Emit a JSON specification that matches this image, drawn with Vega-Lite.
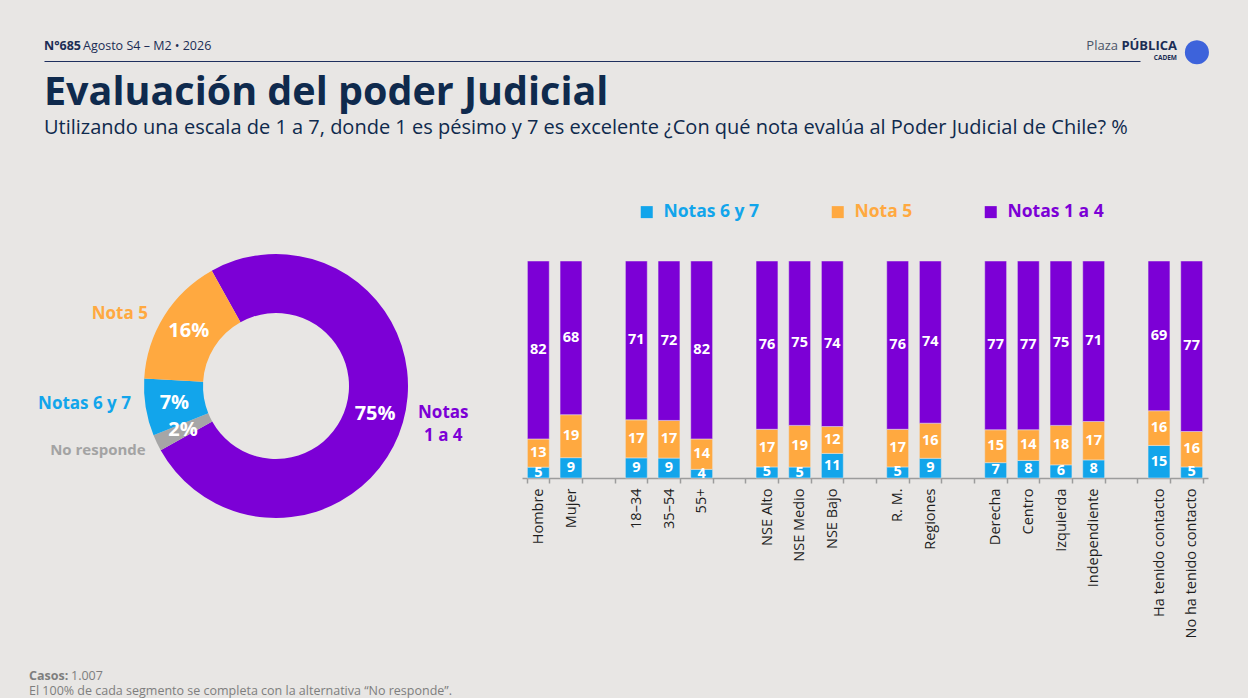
{
  "$schema": "https://vega.github.io/schema/vega-lite/v6.json",
  "background": "#E8E6E4",
  "padding": {"left": 29, "top": 23, "right": 40, "bottom": 0},
  "autosize": {"type": "pad"},
  "config": {
    "font": "Open Sans",
    "view": {"stroke": null},
    "axis": {"labelFont": "Open Sans", "titleFont": "Open Sans"},
    "legend": {"labelFont": "Open Sans"},
    "title": {"font": "Open Sans", "subtitleFont": "Open Sans"}
  },
  "bounds": "flush",
  "spacing": 200,
  "vconcat": [
    {
      "width": 1096,
      "height": 6,
      "data": {"values": [{"k": "cabecera"}]},
      "encoding": {
        "x": {
          "field": "k", "type": "nominal", "bandPosition": 0,
          "scale": {"type": "band", "paddingInner": 0, "paddingOuter": 0},
          "axis": {"orient": "bottom", "title": null, "labels": false, "ticks": false, "domainColor": "#1F2F5E", "domainWidth": 1.2}
        }
      },
      "layer": [
        {"mark": {"type": "text", "text": "N°685", "align": "left", "baseline": "middle", "fontSize": 12.5, "fontWeight": "bold", "color": "#1B2D55", "dy": -12}},
        {"mark": {"type": "text", "text": "Agosto S4 – M2 • 2026", "align": "left", "baseline": "middle", "fontSize": 12.5, "color": "#1B2D55", "dx": 39, "dy": -12}},
        {
          "mark": {"type": "text", "text": "Plaza", "align": "right", "baseline": "middle", "fontSize": 13, "color": "#4A5468", "dx": -22, "dy": -12},
          "encoding": {"x": {"field": "k", "type": "nominal", "bandPosition": 1, "scale": {"type": "band", "paddingInner": 0, "paddingOuter": 0}, "axis": {"orient": "bottom", "title": null, "labels": false, "ticks": false, "domainColor": "#1F2F5E", "domainWidth": 1.2}}}
        },
        {
          "mark": {"type": "text", "text": "PÚBLICA", "align": "right", "baseline": "middle", "fontSize": 13, "fontWeight": "bold", "color": "#1B2D55", "dx": 37, "dy": -12},
          "encoding": {"x": {"field": "k", "type": "nominal", "bandPosition": 1, "scale": {"type": "band", "paddingInner": 0, "paddingOuter": 0}, "axis": {"orient": "bottom", "title": null, "labels": false, "ticks": false, "domainColor": "#1F2F5E", "domainWidth": 1.2}}}
        },
        {
          "mark": {"type": "text", "text": "CADEM", "align": "right", "baseline": "middle", "fontSize": 6.5, "fontWeight": "bold", "color": "#1B2D55", "letterSpacing": 1, "dx": 37, "dy": 0},
          "encoding": {"x": {"field": "k", "type": "nominal", "bandPosition": 1, "scale": {"type": "band", "paddingInner": 0, "paddingOuter": 0}, "axis": {"orient": "bottom", "title": null, "labels": false, "ticks": false, "domainColor": "#1F2F5E", "domainWidth": 1.2}}}
        },
        {
          "mark": {"type": "text", "text": "●", "align": "center", "baseline": "middle", "fontSize": 56, "color": "#3D63DB", "dx": 57, "dy": -7},
          "encoding": {"x": {"field": "k", "type": "nominal", "bandPosition": 1, "scale": {"type": "band", "paddingInner": 0, "paddingOuter": 0}, "axis": {"orient": "bottom", "title": null, "labels": false, "ticks": false, "domainColor": "#1F2F5E", "domainWidth": 1.2}}}
        }
      ]
    },
    {
      "title": {
        "text": "Evaluación del poder Judicial",
        "subtitle": "Utilizando una escala de 1 a 7, donde 1 es pésimo y 7 es excelente ¿Con qué nota evalúa al Poder Judicial de Chile? %",
        "anchor": "start",
        "frame": "group",
        "fontSize": 39.5,
        "fontWeight": "bold",
        "color": "#0F2A4D",
        "subtitleFontSize": 20,
        "subtitleColor": "#0F2A4D",
        "subtitlePadding": 5,
        "offset": 64
      },
      "bounds": "flush",
      "spacing": 14,
      "resolve": {"scale": {"color": "independent"}},
      "hconcat": [
        {
          "width": 464,
          "height": 250,
          "data": {
            "values": [
              {"nota": "Notas 1 a 4", "valor": 75},
              {"nota": "No responde", "valor": 2},
              {"nota": "Notas 6 y 7", "valor": 7},
              {"nota": "Nota 5", "valor": 16}
            ]
          },
          "transform": [
            {"calculate": "indexof(['Notas 1 a 4', 'No responde', 'Notas 6 y 7', 'Nota 5'], datum.nota)", "as": "orden"},
            {"stack": "valor", "groupby": [], "sort": [{"field": "orden", "order": "ascending"}], "as": ["t0", "t1"]},
            {"calculate": "(datum.t0 + datum.t1) / 2", "as": "tmid"},
            {"calculate": "datum.valor + '%'", "as": "etiqueta"}
          ],
          "layer": [
            {
              "mark": {"type": "arc", "outerRadius": 132, "innerRadius": 73},
              "encoding": {
                "theta": {"field": "t0", "type": "quantitative", "stack": null, "scale": {"domain": [0, 100], "range": [-0.508, 5.775]}},
                "theta2": {"field": "t1"},
                "color": {
                  "field": "nota", "type": "nominal", "legend": null,
                  "scale": {"domain": ["Notas 1 a 4", "No responde", "Notas 6 y 7", "Nota 5"], "range": ["#7C00D6", "#A6A6A6", "#12A5EB", "#FFA940"]}
                }
              }
            },
            {
              "mark": {"type": "text", "radius": 103, "fontSize": 20, "fontWeight": "bold", "color": "white", "baseline": "middle"},
              "encoding": {
                "theta": {"field": "tmid", "type": "quantitative", "stack": null, "scale": {"domain": [0, 100], "range": [-0.508, 5.775]}},
                "text": {"field": "etiqueta"}
              }
            },
            {
              "transform": [{"filter": "datum.nota == 'Nota 5'"}],
              "mark": {"type": "text", "radius": 150, "align": "right", "baseline": "middle", "dx": -1, "dy": 8, "fontSize": 17, "fontWeight": "bold", "color": "#FFA940"},
              "encoding": {
                "theta": {"field": "tmid", "type": "quantitative", "stack": null, "scale": {"domain": [0, 100], "range": [-0.508, 5.775]}},
                "text": {"field": "nota"}
              }
            },
            {
              "transform": [{"filter": "datum.nota == 'Notas 6 y 7'"}],
              "mark": {"type": "text", "radius": 145, "align": "right", "baseline": "middle", "dx": -2, "dy": -5, "fontSize": 17, "fontWeight": "bold", "color": "#12A5EB"},
              "encoding": {
                "theta": {"field": "tmid", "type": "quantitative", "stack": null, "scale": {"domain": [0, 100], "range": [-0.508, 5.775]}},
                "text": {"field": "nota"}
              }
            },
            {
              "transform": [{"filter": "datum.nota == 'No responde'"}],
              "mark": {"type": "text", "radius": 140, "align": "right", "baseline": "middle", "dx": -4, "dy": 4, "fontSize": 15, "fontWeight": "bold", "color": "#A3A3A3"},
              "encoding": {
                "theta": {"field": "tmid", "type": "quantitative", "stack": null, "scale": {"domain": [0, 100], "range": [-0.508, 5.775]}},
                "text": {"field": "nota"}
              }
            },
            {
              "transform": [{"filter": "datum.nota == 'Notas 1 a 4'"}],
              "mark": {"type": "text", "text": ["Notas", "1 a 4"], "radius": 150, "align": "center", "baseline": "middle", "dx": 23, "dy": -14.5, "lineHeight": 23, "fontSize": 17, "fontWeight": "bold", "color": "#7C00D6"},
              "encoding": {
                "theta": {"field": "tmid", "type": "quantitative", "stack": null, "scale": {"domain": [0, 100], "range": [-0.508, 5.775]}}
              }
            }
          ]
        },
        {
          "width": 686,
          "height": 217,
          "data": {
            "values": [
              {"segmento": "Hombre", "Notas 6 y 7": 5, "Nota 5": 13, "Notas 1 a 4": 82},
              {"segmento": "Mujer", "Notas 6 y 7": 9, "Nota 5": 19, "Notas 1 a 4": 68},
              {"segmento": "18–34", "Notas 6 y 7": 9, "Nota 5": 17, "Notas 1 a 4": 71},
              {"segmento": "35–54", "Notas 6 y 7": 9, "Nota 5": 17, "Notas 1 a 4": 72},
              {"segmento": "55+", "Notas 6 y 7": 4, "Nota 5": 14, "Notas 1 a 4": 82},
              {"segmento": "NSE Alto", "Notas 6 y 7": 5, "Nota 5": 17, "Notas 1 a 4": 76},
              {"segmento": "NSE Medio", "Notas 6 y 7": 5, "Nota 5": 19, "Notas 1 a 4": 75},
              {"segmento": "NSE Bajo", "Notas 6 y 7": 11, "Nota 5": 12, "Notas 1 a 4": 74},
              {"segmento": "R. M.", "Notas 6 y 7": 5, "Nota 5": 17, "Notas 1 a 4": 76},
              {"segmento": "Regiones", "Notas 6 y 7": 9, "Nota 5": 16, "Notas 1 a 4": 74},
              {"segmento": "Derecha", "Notas 6 y 7": 7, "Nota 5": 15, "Notas 1 a 4": 77},
              {"segmento": "Centro", "Notas 6 y 7": 8, "Nota 5": 14, "Notas 1 a 4": 77},
              {"segmento": "Izquierda", "Notas 6 y 7": 6, "Nota 5": 18, "Notas 1 a 4": 75},
              {"segmento": "Independiente", "Notas 6 y 7": 8, "Nota 5": 17, "Notas 1 a 4": 71},
              {"segmento": "Ha tenido contacto", "Notas 6 y 7": 15, "Nota 5": 16, "Notas 1 a 4": 69},
              {"segmento": "No ha tenido contacto", "Notas 6 y 7": 5, "Nota 5": 16, "Notas 1 a 4": 77}
            ]
          },
          "transform": [
            {"fold": ["Notas 6 y 7", "Nota 5", "Notas 1 a 4"], "as": ["nota", "valor"]},
            {"calculate": "indexof(['Notas 6 y 7', 'Nota 5', 'Notas 1 a 4'], datum.nota)", "as": "orden"},
            {"stack": "valor", "groupby": ["segmento"], "offset": "normalize", "sort": [{"field": "orden", "order": "ascending"}], "as": ["y0", "y1"]},
            {"calculate": "(datum.y0 + datum.y1) / 2", "as": "ymid"}
          ],
          "encoding": {
            "x": {
              "field": "segmento",
              "type": "nominal",
              "scale": {
                "type": "band",
                "domain": ["Hombre", "Mujer", " ", "18–34", "35–54", "55+", "  ", "NSE Alto", "NSE Medio", "NSE Bajo", "   ", "R. M.", "Regiones", "    ", "Derecha", "Centro", "Izquierda", "Independiente", "     ", "Ha tenido contacto", "No ha tenido contacto"],
                "paddingInner": 0.33,
                "paddingOuter": 0.165
              },
              "axis": {
                "title": null,
                "labelAngle": -90,
                "labelFontSize": 14.5,
                "labelColor": "#1E1E1E",
                "labelPadding": 5,
                "domainColor": "#9C9C9C",
                "domainWidth": 1.5,
                "tickColor": "#9C9C9C",
                "tickSize": 5,
                "tickWidth": 1.5,
                "tickBand": "extent"
              }
            }
          },
          "layer": [
            {
              "mark": {"type": "bar", "stroke": "#E8E6E4", "strokeWidth": 0.5},
              "encoding": {
                "y": {"field": "y1", "type": "quantitative", "scale": {"domain": [0, 1]}, "axis": null},
                "y2": {"field": "y0"},
                "color": {
                  "field": "nota",
                  "type": "nominal",
                  "scale": {"domain": ["Notas 6 y 7", "Nota 5", "Notas 1 a 4"], "range": ["#12A5EB", "#FFA940", "#7C00D6"]},
                  "legend": {
                    "orient": "none",
                    "legendX": 116,
                    "legendY": -58,
                    "direction": "horizontal",
                    "title": null,
                    "padding": 0,
                    "symbolType": "square",
                    "symbolSize": 144,
                    "symbolStrokeWidth": 0,
                    "symbolOpacity": 1,
                    "labelFontSize": 17.5,
                    "labelFontWeight": "bold",
                    "labelOffset": 8,
                    "columnPadding": 69,
                    "labelColor": {"expr": "datum.value == 'Notas 6 y 7' ? '#12A5EB' : datum.value == 'Nota 5' ? '#FFA940' : '#7C00D6'"}
                  }
                }
              }
            },
            {
              "mark": {"type": "text", "fontSize": 14.5, "fontWeight": "bold", "color": "white", "baseline": "middle"},
              "encoding": {
                "y": {"field": "ymid", "type": "quantitative"},
                "text": {"field": "valor", "type": "quantitative"}
              }
            }
          ]
        }
      ]
    },
    {
      "width": 500,
      "height": 1,
      "data": {"values": [{"k": "pie"}]},
      "encoding": {
        "x": {"field": "k", "type": "nominal", "bandPosition": 0, "scale": {"type": "band", "paddingInner": 0, "paddingOuter": 0}, "axis": null}
      },
      "layer": [
        {"mark": {"type": "text", "text": "Casos:", "align": "left", "baseline": "middle", "fontSize": 12.5, "fontWeight": "bold", "color": "#7E7E7E", "dx": -15, "dy": 214.5}},
        {"mark": {"type": "text", "text": "1.007", "align": "left", "baseline": "middle", "fontSize": 12.5, "color": "#7E7E7E", "dx": 27, "dy": 214.5}},
        {"mark": {"type": "text", "text": "El 100% de cada segmento se completa con la alternativa “No responde”.", "align": "left", "baseline": "middle", "fontSize": 12.5, "color": "#7E7E7E", "dx": -15, "dy": 229.5}}
      ]
    }
  ]
}
